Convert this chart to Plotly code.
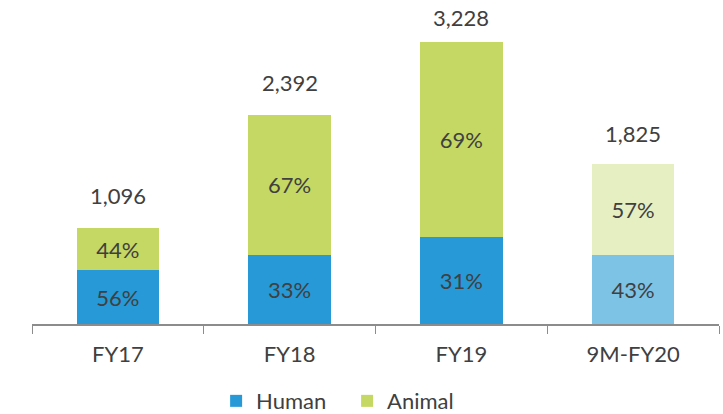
import plotly.graph_objects as go

categories = ["FY17", "FY18", "FY19", "9M-FY20"]
totals = [1096, 2392, 3228, 1825]
human_pct = [56, 33, 31, 43]
animal_pct = [44, 67, 69, 57]

human_colors = ["#2699D6", "#2699D6", "#2699D6", "#7DC3E6"]
animal_colors = ["#C5D863", "#C5D863", "#C5D863", "#E6EFC1"]
TEXT = "#404040"
FONT = "Lato, 'Open Sans', sans-serif"
FS = 22

human_vals = [t * p / 100 for t, p in zip(totals, human_pct)]
animal_vals = [t * p / 100 for t, p in zip(totals, animal_pct)]

fig = go.Figure()
fig.add_trace(go.Bar(
    x=categories, y=human_vals, name="Human",
    marker=dict(color=human_colors, line=dict(width=0)),
    text=[f"{p}%" for p in human_pct], textposition="inside",
    insidetextanchor="middle", textangle=0,
    textfont=dict(size=FS, color=TEXT, family=FONT),
))
fig.add_trace(go.Bar(
    x=categories, y=animal_vals, name="Animal",
    marker=dict(color=animal_colors, line=dict(width=0)),
    text=[f"{p}%" for p in animal_pct], textposition="inside",
    insidetextanchor="middle", textangle=0,
    textfont=dict(size=FS, color=TEXT, family=FONT),
))

# totals above bars (the tallest one sits a little lower to stay on the page)
label_shift = [17, 17, 9, 15]
for c, t, s in zip(categories, totals, label_shift):
    fig.add_annotation(
        x=c, y=t, text=f"{t:,}", showarrow=False,
        yanchor="bottom", yshift=s,
        font=dict(size=FS, color=TEXT, family=FONT),
    )

fig.update_layout(
    barmode="stack",
    bargap=0.52,
    width=723, height=414,
    margin=dict(l=32, r=4, t=0, b=90, autoexpand=False),
    paper_bgcolor="white", plot_bgcolor="white",
    font=dict(family=FONT, color=TEXT, size=FS),
    uniformtext=dict(mode=False),
    legend=dict(
        orientation="h", traceorder="normal",
        x=0.268, xanchor="left", y=-0.173, yanchor="top",
        font=dict(size=FS, color=TEXT), itemwidth=30,
        entrywidth=86, entrywidthmode="pixels",
    ),
    xaxis=dict(
        showline=True, linecolor="#8c8c8c", linewidth=1.5, automargin=False,
        ticks="outside", tickson="boundaries", ticklen=8, tickcolor="#8c8c8c",
        tickfont=dict(size=FS, color=TEXT), ticklabelstandoff=10,
    ),
    yaxis=dict(visible=False, range=[0, 3707], automargin=False),
)

fig.write_html(
    "out.html",
    config={"displayModeBar": False},
    post_script="document.body.style.margin='0';",
)
